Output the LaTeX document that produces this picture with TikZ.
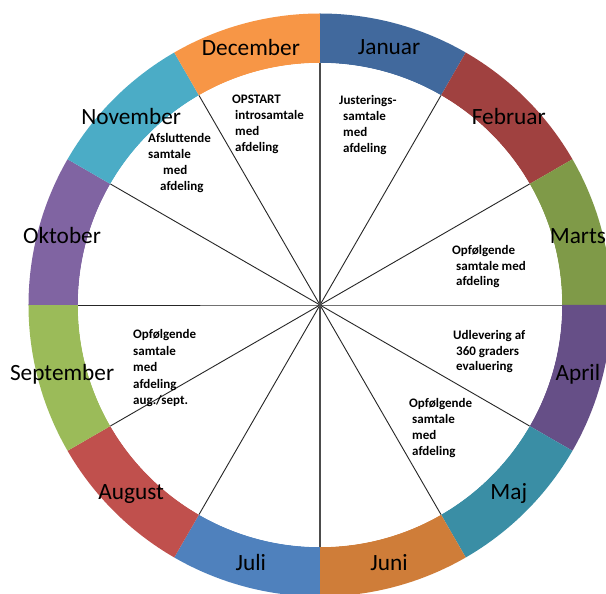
\documentclass[tikz,border=0pt]{standalone}
\usepackage{fontspec}
\setmainfont{Carlito}
\definecolor{cjan}{HTML}{41699D}
\definecolor{cfeb}{HTML}{A04140}
\definecolor{cmar}{HTML}{7F9A48}
\definecolor{capr}{HTML}{664F87}
\definecolor{cmaj}{HTML}{3A8EA5}
\definecolor{cjun}{HTML}{CF7D39}
\definecolor{cjul}{HTML}{4F81BD}
\definecolor{caug}{HTML}{C0504D}
\definecolor{csep}{HTML}{9BBB59}
\definecolor{cokt}{HTML}{8064A2}
\definecolor{cnov}{HTML}{4BACC6}
\definecolor{cdec}{HTML}{F79646}
\begin{document}
\begin{tikzpicture}[
  month/.style={font=\fontsize{23.3}{27}\selectfont, text=black, inner sep=0pt},
  note/.style={font=\bfseries\fontsize{13}{15}\selectfont, anchor=base west, inner sep=0pt},
  spoke/.style={draw=black!85, line width=0.9pt},
  mainspoke/.style={draw=black!70, line width=1.8pt},
]
\path[use as bounding box, fill=white] (-320pt,-289pt) rectangle (286pt,305pt);
\clip (-320pt,-289pt) rectangle (286pt,305pt);
\coordinate (c) at (0pt,0pt);
% ring segments
\foreach \col [count=\i from 0] in {cjan,cfeb,cmar,capr,cmaj,cjun,cjul,caug,csep,cokt,cnov,cdec} {
  \pgfmathsetmacro\a{90-30*\i}
  \pgfmathsetmacro\b{60-30*\i}
  \fill[\col] (\a:291.5pt) arc[start angle=\a, end angle=\b, radius=291.5pt]
    -- (\b:242pt) arc[start angle=\b, end angle=\a, radius=242pt] -- cycle;
}
\fill[white] (c) circle[radius=242pt];
% month labels
\foreach \m [count=\i from 0] in {Januar,Februar,Marts,April,Maj,Juni,Juli,August,September,Oktober,November,December} {
  \node[month] (m\i) at ({75-30*\i}:267pt) {\m};
}
% spokes
\foreach \i in {1,...,5} {
  \coordinate (s\i a) at ({90-30*\i}:242pt);
  \coordinate (s\i b) at ({270-30*\i}:242pt);
  \draw[spoke] (s\i a) -- (c) -- (s\i b);
}
\coordinate (s0a) at (90:242pt);
\coordinate (s0b) at (270:242pt);
\draw[mainspoke] (s0a) -- (c) -- (s0b);
% notes (image pixel coordinates)
\begin{scope}[shift={(-320pt,305pt)}, x=1pt, y=-1pt]
  \node[note] (a1) at (232,104) {OPSTART};
  \node[note] (a2) at (235,120) {introsamtale};
  \node[note] (a3) at (235,136) {med};
  \node[note] (a4) at (235,152) {afdeling};
  \node[note] (b1) at (148,143) {Afsluttende};
  \node[note] (b2) at (148,159) {samtale};
  \node[note] (b3) at (163,175) {med};
  \node[note] (b4) at (160,191) {afdeling};
  \node[note] (c1) at (339,104.7) {Justerings-};
  \node[note] (c2) at (343,120.7) {samtale};
  \node[note] (c3) at (343,136.7) {med};
  \node[note] (c4) at (343,152.7) {afdeling};
  \node[note] (d1) at (452,254.7) {Opfølgende};
  \node[note] (d2) at (456,270.2) {samtale med};
  \node[note] (d3) at (456,285.7) {afdeling};
  \node[note] (e1) at (453,340) {Udlevering af};
  \node[note] (e2) at (456,355.4) {360 graders};
  \node[note] (e3) at (456,370.8) {evaluering};
  \node[note] (f1) at (409,408) {Opfølgende};
  \node[note] (f2) at (412,424) {samtale};
  \node[note] (f3) at (412,440) {med};
  \node[note] (f4) at (412,456) {afdeling};
  \node[note] (g1) at (133,339) {Opfølgende};
  \node[note] (g2) at (133,355.4) {samtale};
  \node[note] (g3) at (133,371.8) {med};
  \node[note] (g4) at (133,388.2) {afdeling};
  \node[note] (g5) at (133,404.6) {aug./sept.};
\end{scope}
\end{tikzpicture}
\end{document}
